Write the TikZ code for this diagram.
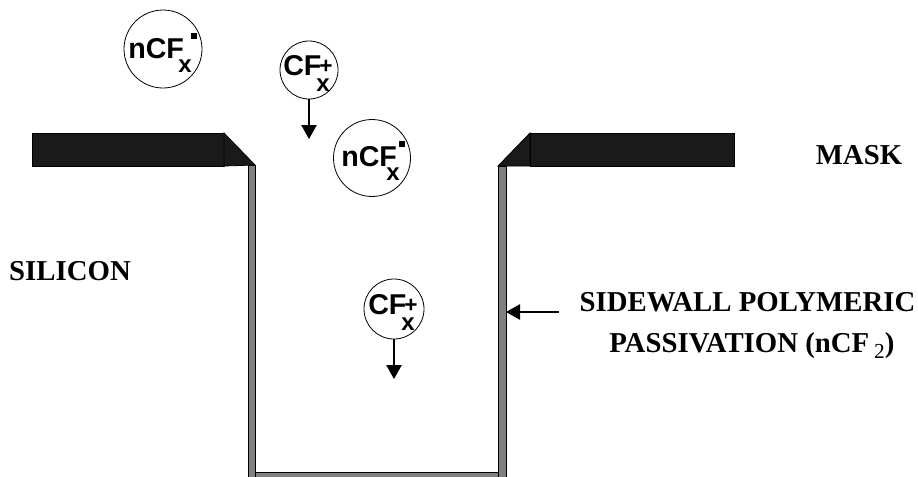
\documentclass[tikz,border=0pt]{standalone}
\usepackage{fontspec}
\setmainfont{Liberation Serif}
\newfontfamily\lsans{Liberation Sans}
\usetikzlibrary{arrows.meta}
\tikzset{
  x=0.75pt,y=-0.75pt,
  maskfill/.style={fill=maskblack,draw=black,line width=0.6pt},
  wallfill/.style={fill=wallgray,draw=black,line width=0.6pt},
  ion/.style={circle,draw=black,line width=0.6pt,inner sep=0pt,minimum size=#1*0.75pt},
  iontext/.style={inner sep=0pt,anchor=base west,font=\lsans\bfseries\fontsize{21.5}{24}\selectfont},
  ionsub/.style={inner sep=0pt,anchor=base west,font=\lsans\bfseries\fontsize{18}{22}\selectfont},
  ionplus/.style={inner sep=0pt,anchor=base west,font=\lsans\bfseries\fontsize{17}{20}\selectfont},
  lab/.style={inner sep=0pt,anchor=base,font=\bfseries\fontsize{21.6}{24}\selectfont},
  flow/.style={draw=black,line width=1.1pt,-{Triangle[length=10.5pt,width=11.5pt]}},
  charge/.style={fill=black,draw=none,inner sep=0pt,minimum size=4.5pt}
}
\definecolor{maskblack}{HTML}{1A1A1A}
\definecolor{wallgray}{HTML}{808080}
\begin{document}
\begin{tikzpicture}
\useasboundingbox (0,0) rectangle (918,476);
% walls and floor
\draw[wallfill] (248,165) rectangle (255,480);
\draw[wallfill] (498,166) rectangle (506,480);
\draw[wallfill] (255,472) rectangle (498,480);
% mask
\draw[maskfill] (32,133) rectangle (224,166);
\draw[maskfill] (224,133) -- (255,165) -- (224,166) -- cycle;
\draw[maskfill] (530,133) rectangle (734,166);
\draw[maskfill] (530,133) -- (498,166) -- (530,166) -- cycle;
% ions
\node[ion=78] (a) at (163,49) {};
\node[iontext] (at) at (128,58) {nCF};
\node[ionsub] (ax) at (178,72) {x};
\node[charge] (ac) at (194,36) {};
\node[ion=58] (b) at (309,70) {};
\node[iontext] (bt) at (283,75) {CF};
\node[ionplus] (bp) at (319,73) {+};
\node[ionsub] (bx) at (316,91) {x};
\node[ion=77] (c) at (372,158) {};
\node[iontext] (ct) at (341,166) {nCF};
\node[ionsub] (cx) at (386,180) {x};
\node[charge] (cc) at (402,144) {};
\node[ion=60] (d) at (394,309) {};
\node[iontext] (dt) at (368,314) {CF};
\node[ionplus] (dp) at (404,312) {+};
\node[ionsub] (dx) at (401,330) {x};
% arrow ends
\coordinate (be) at (309,139);
\coordinate (de) at (394,379);
\coordinate (wall) at (506,312);
\coordinate (ws) at (559,312);
\draw[flow] (b) -- (be);
\draw[flow] (d) -- (de);
\draw[flow] (ws) -- (wall);
% labels
\node[lab] (mask) at (859,164) {MASK};
\node[lab] (si) at (70,280) {SILICON};
\node[lab] (s1) at (747.5,311) {SIDEWALL POLYMERIC};
\node[lab,anchor=base west] (s2) at (609,352) {PASSIVATION (nCF\,\raisebox{-5pt}{\mdseries\fontsize{16}{18}\selectfont 2})};
\end{tikzpicture}
\end{document}
